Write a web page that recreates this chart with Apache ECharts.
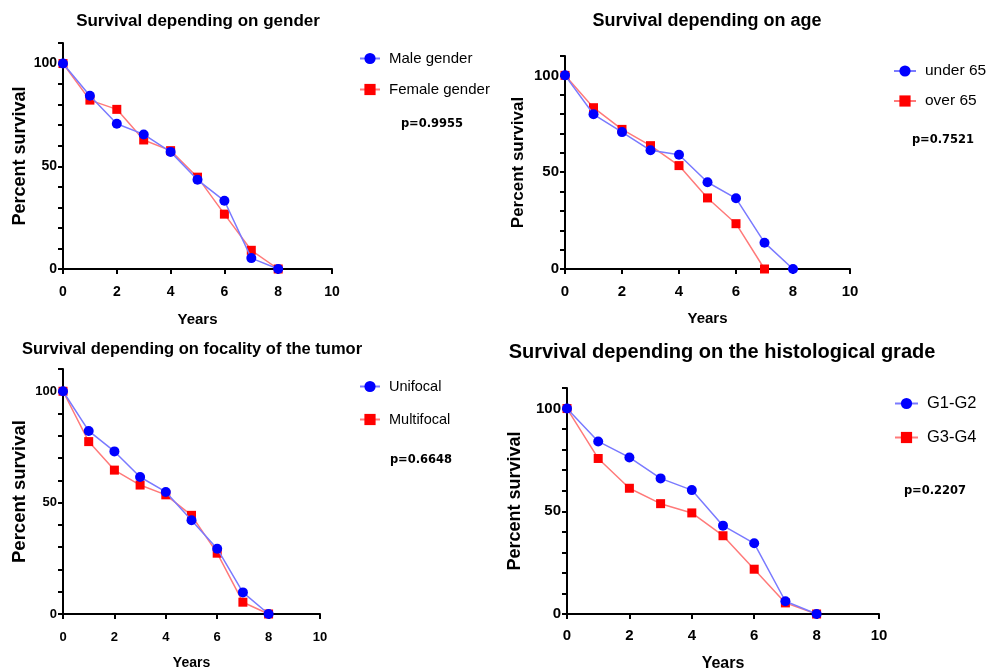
<!DOCTYPE html>
<html><head><meta charset="utf-8">
<script src="https://cdn.jsdelivr.net/npm/echarts@6/dist/echarts.min.js"></script>
<style>html,body{margin:0;padding:0;background:#fff}#c{width:989px;height:669px}</style>
</head><body><div id="c"></div>
<script>
const years = [0, 1, 2, 3, 4, 5, 6, 7, 8];
const xTicks = [0, 2, 4, 6, 8, 10];
const yTicks = [0, 50, 100];

const titles = ["Survival depending on gender", "Survival depending on age",
  "Survival depending on focality of the tumor", "Survival depending on the histological grade"];
const pValues = ["p=0.9955", "p=0.7521", "p=0.6648", "p=0.2207"];

const blueNames = ["Male gender", "under 65", "Unifocal", "G1-G2"];
const redNames = ["Female gender", "over 65", "Multifocal", "G3-G4"];

const maleGender   = [100, 84.3, 70.7, 65.5, 57.0, 43.4, 33.2, 5.3, 0];
const femaleGender = [100, 82.2, 77.7, 62.8, 57.6, 44.7, 26.7, 9.1, 0];
const under65      = [100, 79.9, 70.7, 61.3, 59.0, 44.8, 36.5, 13.6, 0];
const over65       = [100, 83.3, 72.1, 63.7, 53.4, 36.7, 23.4, 0];
const unifocal     = [100, 82.2, 73.0, 61.5, 54.8, 42.1, 29.3, 9.7, 0];
const multifocal   = [100, 77.4, 64.6, 57.9, 53.5, 44.3, 27.3, 5.3, 0];
const g1g2         = [100, 84.0, 76.2, 66.0, 60.3, 43.0, 34.4, 6.2, 0];
const g3g4         = [100, 75.7, 61.2, 53.7, 49.2, 38.1, 21.8, 5.4, 0];

const blueData = [maleGender, under65, unifocal, g1g2];
const redData = [femaleGender, over65, multifocal, g3g4];

// layout (pixels) per panel
const L = [
  {grid:{left:63,top:43,width:269,height:226}, title:{x:198,y:21,fs:17}, tick:14, tmargin:16, yname:18, ygap:34, xname:15, xgap:43,
   legend:{left:359,top:51,gap:16,fs:15,w:20}, p:{x:432,y:124}},
  {grid:{left:565,top:56,width:285,height:213}, title:{x:707,y:21,fs:18}, tick:15, tmargin:15, yname:17, ygap:38, xname:15, xgap:42,
   legend:{left:893,top:63,gap:14,fs:15.5,w:22}, p:{x:943,y:140}},
  {grid:{left:63,top:369,width:257,height:245}, title:{x:192,y:349,fs:16.5}, tick:13, tmargin:17, yname:18.5, ygap:34, xname:14, xgap:42,
   legend:{left:359,top:379,gap:18,fs:14.5,w:20}, p:{x:421,y:460}},
  {grid:{left:567,top:388,width:312,height:226}, title:{x:722,y:352,fs:20}, tick:15, tmargin:14, yname:18, ygap:43, xname:16, xgap:42,
   legend:{left:894,top:395,gap:17,fs:16.5,w:23}, p:{x:935,y:491}}
];

const boldFont = "'Liberation Sans', Arial, sans-serif";
const grids = [], xAxes = [], yAxes = [], series = [], legends = [], graphics = [];
L.forEach((c, i) => {
  grids.push(Object.assign({containLabel:false, outerBoundsMode:'none'}, c.grid));
  xAxes.push({
    type:'value', gridIndex:i, min:0, max:10, interval:2,
    name:'Years', nameLocation:'middle', nameGap:c.xgap,
    nameTextStyle:{fontFamily:boldFont, fontWeight:'bold', fontSize:c.xname, color:'#000'},
    axisLine:{show:true, onZero:false, lineStyle:{color:'#000', width:2}},
    axisTick:{show:true, length:5, lineStyle:{color:'#000', width:2}},
    axisLabel:{color:'#000', fontFamily:boldFont, fontWeight:'bold', fontSize:c.tick, margin:c.tmargin,
      formatter: v => xTicks.includes(v) ? String(v) : ''},
    splitLine:{show:false}
  });
  yAxes.push({
    type:'value', gridIndex:i, min:0, max:110, interval:10,
    name:'Percent survival', nameLocation:'middle', nameGap:c.ygap, nameRotate:90,
    nameTextStyle:{fontFamily:boldFont, fontWeight:'bold', fontSize:c.yname, color:'#000'},
    axisLine:{show:true, onZero:false, lineStyle:{color:'#000', width:2}},
    axisTick:{show:true, length:5, lineStyle:{color:'#000', width:2}},
    axisLabel:{color:'#000', fontFamily:boldFont, fontWeight:'bold', fontSize:c.tick, margin:6,
      formatter: v => yTicks.includes(v) ? String(v) : ''},
    splitLine:{show:false}
  });
  series.push({
    type:'line', name:redNames[i], xAxisIndex:i, yAxisIndex:i,
    data: redData[i].map((v, k) => [years[k], v]),
    symbol:'rect', symbolSize:9,
    itemStyle:{color:'#ff0000'}, lineStyle:{color:'#ff7a7a', width:1.5}, z:2
  });
  series.push({
    type:'line', name:blueNames[i], xAxisIndex:i, yAxisIndex:i,
    data: blueData[i].map((v, k) => [years[k], v]),
    symbol:'circle', symbolSize:10,
    itemStyle:{color:'#0000ff'}, lineStyle:{color:'#7a7aff', width:1.5}, z:3
  });
  legends.push({
    data:[blueNames[i], redNames[i]], orient:'vertical', padding:0,
    left:c.legend.left, top:c.legend.top, itemGap:c.legend.gap, itemWidth:c.legend.w, itemHeight:14,
    textStyle:{fontFamily:"'Liberation Sans', Arial, sans-serif", fontSize:c.legend.fs, color:'#000', padding:[0,0,0,4]},
    selectedMode:false
  });
  graphics.push({type:'text', x:c.title.x, y:c.title.y,
    style:{text:titles[i], fill:'#000', font:`bold ${c.title.fs}px ${boldFont}`, textAlign:'center', textVerticalAlign:'middle'}});
  graphics.push({type:'text', x:c.p.x, y:c.p.y,
    style:{text:pValues[i], fill:'#000', font:"bold 11.5px 'DejaVu Sans', sans-serif", textAlign:'center', textVerticalAlign:'middle'}});
});

const chart = echarts.init(document.getElementById('c'), null, {renderer:'canvas'});
chart.setOption({
  animation:false,
  backgroundColor:'#fff',
  grid:grids, xAxis:xAxes, yAxis:yAxes, series:series, legend:legends, graphic:graphics
});
</script></body></html>
